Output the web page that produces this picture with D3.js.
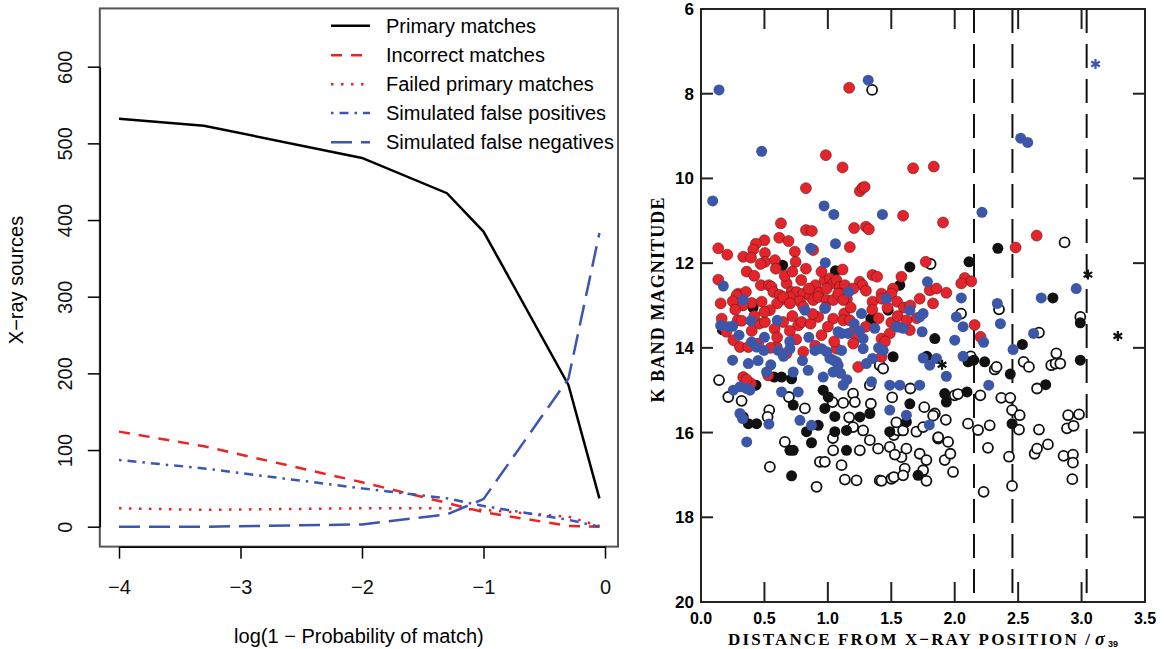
<!DOCTYPE html>
<html>
<head>
<meta charset="utf-8">
<script src="https://cdn.jsdelivr.net/npm/d3@7"></script>
<style>
  body { margin: 0; background: #fff; }
  svg { display: block; }
</style>
</head>
<body>
<div id="chart"></div>
<script>
// ---- left panel data: log(1 - P) vs number of X-ray sources
var logP = [-4, -3.301, -2, -1.301, -1, -0.301, -0.046];
var primaryMatches   = [532, 523, 481, 435, 385, 185, 37];
var incorrectMatches = [124, 105, 58, 31, 19, 1, 0];
var failedPrimary    = [24, 22, 24, 24, 22, 13, 1];
var simFalsePos      = [87, 76, 50, 37, 27, 9, 0];
var simFalseNeg      = [0, 0, 3, 16, 36, 193, 383];
var xTicksL = [-4, -3, -2, -1, 0];
var yTicksL = [0, 100, 200, 300, 400, 500, 600];

// ---- right panel data: [distance / sigma, K magnitude]
var redPts = [[1.168,7.86],[0.984,9.45],[1.116,9.74],[1.672,9.76],[1.835,9.72],[0.827,10.23],[1.252,10.3],[1.273,10.22],[1.29,10.2],[1.593,10.88],[1.908,11.04],[0.63,11.06],[0.827,11.22],[0.874,11.24],[1.207,11.17],[1.3,11.14],[1.323,11.2],[0.617,11.4],[0.69,11.48],[0.5,11.46],[0.433,11.54],[0.412,11.68],[0.136,11.65],[0.207,11.8],[0.333,11.85],[0.394,11.87],[0.504,11.76],[0.504,11.97],[0.583,11.93],[0.74,11.73],[0.746,11.97],[1.173,11.62],[0.884,11.69],[1.772,11.97],
  [2.646,11.35],[2.48,11.63],[2.079,12.35],[2.131,12.43],[2.052,12.48],[2.157,13.46],[2.203,13.74],
  [0.36,12.2],[0.59,12.13],[0.827,12.13],[1.116,12.15],
  [0.136,12.39],[0.294,12.72],[0.354,12.68],[0.472,12.52],[0.535,12.52],[0.556,12.56],[0.57,12.68],[0.675,12.48],[0.714,12.68],[0.753,12.68],[0.806,12.72],[0.903,12.52],[0.976,12.4],[1.016,12.36],[1.042,12.48],[1.068,12.4],[1.094,12.56],[1.134,12.52],[1.252,12.44],[1.273,12.52],[1.352,12.28],[1.388,12.32],[1.423,12.72],[1.514,12.6],[1.58,12.32],[1.803,12.64],[1.856,12.6],[1.934,12.7],
  [0.62,12.75],[0.65,12.85],[0.7,12.8],[0.78,12.9],[0.86,12.78],[0.93,12.7],[0.99,12.6],[1.1,12.72],[1.15,12.85],[0.85,12.6],[0.6,12.95],
  [0.155,12.95],[0.281,12.76],[0.399,12.94],[0.478,12.91],[0.543,13.11],[0.648,12.8],[0.701,12.95],[0.806,13.03],[0.885,12.87],[0.924,12.8],[0.99,12.87],[1.042,12.87],[1.081,12.72],[1.121,12.87],[1.129,13.19],[1.352,12.91],[1.423,12.84],[1.501,12.72],[1.546,12.91],[1.724,12.84],[1.829,12.95],
  [0.25,12.9],[0.33,13.0],[1.6,13.05],[1.65,13.0],[1.47,13.05],
  [0.163,13.31],[0.289,13.35],[0.32,13.36],[0.459,13.43],[0.504,13.39],[0.648,13.39],[0.766,13.47],[0.793,13.39],[0.864,13.43],[0.924,13.27],[1.042,13.31],[1.121,13.35],[1.173,13.35],[1.199,13.62],[1.226,13.74],[1.423,13.78],[1.488,13.66],[1.646,13.58],
  [0.58,13.55],[0.7,13.6],[1.0,13.5],[1.5,13.4],[1.55,13.5],[1.7,13.3],[0.4,13.6],
  [0.255,13.82],[0.307,13.98],[0.373,13.98],[0.596,13.98],[0.675,14.13],[0.806,14.09],[1.068,14.02],[1.239,14.45],[1.423,14.21],
  [0.45,13.9],[0.55,14.0],[0.9,13.95],[1.45,13.85],[1.2,13.9],
  [0.333,14.69],[0.394,14.84],[0.53,14.65],[0.36,14.75],
  [0.42,12.3],[0.47,12.02],[0.66,12.3],[0.72,12.2],[0.79,12.4],[0.95,12.2],[1.2,12.6],[1.18,13.05],[1.3,12.65],[1.35,13.1],[1.4,13.3],[0.5,13.15],[0.42,13.25],[0.27,13.1],[0.2,13.62],[0.6,13.75],[0.75,13.8],[0.95,13.7],[1.05,13.85],[1.3,13.5],[1.55,13.25],[1.62,13.35],[0.88,13.2],[0.72,13.25],[0.98,13.05]];

var bluePts = [[0.142,7.91],[1.318,7.68],[0.478,9.36],[0.092,10.53],[0.97,10.65],[1.047,10.85],[1.43,10.85],[2.215,10.8],[2.52,9.05],[2.575,9.15],[1.06,11.54],[0.864,11.65],[0.98,11.99],
  [2.958,12.6],[2.052,12.82],[2.682,12.82],[2.336,12.95],[2.066,13.5],[2.36,13.43],[2.228,13.87],[2.622,13.66],[2.46,14.04],[2.066,14.2],[2.268,14.88],
  [0.176,12.54],[1.165,12.68],[1.785,12.44],[0.333,12.87],[0.976,13.07],[0.819,13.11],[1.265,13.19],[1.462,12.84],[1.646,13.11],[1.751,13.19],[2.013,13.27],[0.155,13.47],[0.215,13.5],[0.249,13.49],[0.394,13.36],[0.601,13.35],[1.207,13.43],[1.108,13.66],[1.081,13.62],[1.16,13.66],[1.278,13.78],[1.37,13.54],[1.541,13.5],[1.593,13.54],[1.724,13.27],[1.743,13.62],[2.0,13.82],[0.399,13.86],[0.438,13.98],[0.496,14.06],[0.609,14.06],[0.701,14.02],[0.898,14.06],[0.95,14.02],[0.99,14.09],[1.016,14.25],[1.042,14.29],[1.068,14.33],[1.081,14.41],[1.108,14.06],[1.278,14.02],[1.352,14.25],[1.436,14.06],[1.304,14.37],[1.751,14.24],[1.803,14.41],[1.856,14.25],[0.249,14.29],[0.373,14.37],[0.517,14.57],[0.307,14.92],[0.386,15.0],[0.727,14.57],[0.845,14.53],[0.963,14.69],[1.042,14.57],[1.121,14.88],[1.344,14.8],[1.488,14.88],[1.567,14.88],[1.724,14.88],[1.934,14.67],[0.255,15.0],[0.36,14.96],[0.635,15.04],[0.766,15.04],[1.488,15.47],[1.619,15.59],[0.307,15.55],[0.328,15.67],[0.535,15.8],[0.78,15.71],[0.871,15.83],[1.8,15.82],[0.36,16.22],
  [0.45,14.3],[0.55,14.4],[0.65,14.2],[0.8,14.3],[1.1,14.6],[1.15,14.75],
  [0.3,13.7],[0.5,13.75],[0.7,13.85],[0.85,13.75],[1.25,13.6],[1.4,14.0]];

var blackPts = [[0.643,12.05],[1.06,12.18],[1.646,12.09],[2.113,11.97],[2.34,11.65],[2.774,12.82],[2.99,13.41],[2.533,13.92],[2.105,14.33],[2.15,14.29],[2.236,14.33],[2.438,14.62],[2.99,14.29],[2.717,14.87],[2.097,15.04],[2.452,15.79],
  [1.567,12.52],[1.475,13.11],[1.339,13.31],[1.37,13.31],[0.168,13.57],[1.843,13.78],[1.514,14.21],[0.433,14.88],[0.577,14.69],[0.635,14.69],[0.714,14.73],[0.727,15.35],[0.963,15.0],[1.003,15.16],[0.976,15.43],[1.252,15.63],[1.331,15.55],[1.646,15.32],[1.921,15.08],[1.934,15.28],[0.333,15.63],[0.373,15.79],[0.438,15.79],[0.832,15.98],[0.924,15.83],[0.871,16.24],[1.055,15.98],[1.147,15.95],[1.488,15.98],[1.619,15.75],[0.701,16.42],[0.727,16.42],[1.147,16.42],[0.714,17.02],[1.711,17.01],[1.78,14.2],[0.41,13.05],[1.055,15.62]];

var openPts = [[1.349,7.91],[1.81,12.02],[2.866,11.51],[2.349,13.09],[2.05,13.19],[2.99,13.27],[2.664,13.64],[2.126,14.2],[2.315,14.51],[2.33,14.45],[2.543,14.33],[2.585,14.45],[2.801,14.13],[2.761,14.41],[2.795,14.37],[2.832,14.37],[2.649,14.96],[2.202,15.12],[2.367,15.18],[2.438,15.18],[2.452,15.47],[2.512,15.59],[2.105,15.79],[2.184,15.94],[2.276,15.83],[2.507,15.93],[2.664,15.93],[2.894,15.59],[2.98,15.57],[2.885,15.9],[2.937,15.84],[2.262,16.36],[2.63,16.5],[2.649,16.38],[2.735,16.28],[2.858,16.55],[2.932,16.52],[2.932,16.71],[2.428,16.57],[2.927,17.1],[2.228,17.4],[2.452,17.26],
  [1.409,14.41],[1.436,14.49],[0.142,14.76],[1.331,14.88],[0.215,15.16],[0.32,15.25],[0.693,15.16],[0.819,15.43],[1.037,15.28],[1.121,15.3],[1.199,15.08],[1.213,15.28],[1.339,15.32],[1.843,15.55],[2.0,15.12],[2.026,15.09],[0.538,15.47],[0.525,15.63],[1.199,15.87],[1.278,15.95],[1.331,16.18],[1.52,16.06],[1.554,15.95],[1.593,15.95],[1.698,15.98],[1.751,15.87],[1.869,16.14],[1.948,16.22],[0.661,16.22],[1.042,16.42],[1.252,16.42],[1.396,16.38],[1.488,16.34],[1.58,16.58],[1.619,16.38],[1.724,16.5],[1.777,16.65],[1.921,16.65],[1.966,16.5],[0.543,16.81],[0.937,16.69],[0.976,16.69],[1.108,16.77],[1.606,16.85],[1.751,16.89],[1.987,16.93],[0.911,17.28],[1.134,17.11],[1.226,17.13],[1.409,17.13],[1.423,17.14],[1.501,17.09],[1.52,17.05],[1.777,17.14],[1.593,17.01],
  [1.507,15.17],[1.54,15.76],[1.76,15.4],[1.83,15.6],[1.93,15.7],[1.65,14.96],[1.87,16.11],[1.168,15.64],[1.528,16.52],[1.04,16.13]];

var starBlack = [[3.05,12.27],[3.286,13.72],[1.9,14.4]];
var starBlue = [[3.11,7.3]];
var cutLines = [2.152, 2.455, 3.04];
var xTicksR = [0, 0.5, 1.0, 1.5, 2.0, 2.5, 3.0, 3.5];
var yTicksR = [6, 8, 10, 12, 14, 16, 18, 20];

var W = 1164, H = 649;
var svg = d3.select("#chart").append("svg")
    .attr("width", W)
    .attr("height", H);
svg.append("rect").attr("width", W).attr("height", H).attr("fill", "#fff");

// ================= left panel =================
var sans = "'Liberation Sans', Arial, Helvetica, sans-serif";
var xL = d3.scaleLinear().domain([-4, 0]).range([119, 605]);
var yL = d3.scaleLinear().domain([0, 600]).range([526.7, 66.7]);
var boxL = {x0: xL(-4.158), x1: xL(0.107), y0: yL(676), y1: yL(-26)};

var gL = svg.append("g").style("font-family", sans);

gL.append("rect")
    .attr("x", boxL.x0).attr("y", boxL.y0)
    .attr("width", boxL.x1 - boxL.x0).attr("height", boxL.y1 - boxL.y0)
    .attr("fill", "none").attr("stroke", "#555").attr("stroke-width", 2);

var axB = gL.append("g")
    .attr("transform", "translate(0," + boxL.y1 + ")")
    .call(d3.axisBottom(xL).tickValues(xTicksL).tickFormat(d3.format("d")).tickSize(12).tickSizeOuter(0));
axB.select(".domain").attr("stroke-width", 1.5);
axB.selectAll(".tick line").attr("stroke-width", 1.5);
axB.selectAll("text").attr("y", 47).attr("dy", 0).style("font-size", "20px").attr("fill", "#111");

var axLft = gL.append("g")
    .attr("transform", "translate(" + boxL.x0 + ",0)")
    .call(d3.axisLeft(yL).tickValues(yTicksL).tickSize(12).tickSizeOuter(0));
axLft.select(".domain").attr("stroke-width", 1.5);
axLft.selectAll(".tick line").attr("stroke-width", 1.5);
axLft.selectAll("text")
    .attr("transform", "rotate(-90)")
    .attr("x", 0).attr("y", -28).attr("dy", 0)
    .attr("text-anchor", "middle")
    .style("font-size", "20px").attr("fill", "#111");

gL.append("text")
    .attr("transform", "translate(23,280) rotate(-90)")
    .attr("text-anchor", "middle")
    .style("font-size", "20px")
    .text("X\u2212ray sources");

gL.append("text")
    .attr("x", (boxL.x0 + boxL.x1) / 2).attr("y", 643)
    .attr("text-anchor", "middle")
    .style("font-size", "20px")
    .text("log(1 \u2212 Probability of match)");

var series = [
  {name: "Primary matches", vals: primaryMatches, color: "#000", dash: null},
  {name: "Incorrect matches", vals: incorrectMatches, color: "#ee2222", dash: "11,9"},
  {name: "Failed primary matches", vals: failedPrimary, color: "#ee2222", dash: "2.5,7.5"},
  {name: "Simulated false positives", vals: simFalsePos, color: "#3b55b0", dash: "2.5,6,9,6"},
  {name: "Simulated false negatives", vals: simFalseNeg, color: "#3b55b0", dash: "21,9"}
];

var line = d3.line()
    .x(function(d) { return xL(d[0]); })
    .y(function(d) { return yL(d[1]); });

series.forEach(function(s) {
  gL.append("path")
      .datum(logP.map(function(x, i) { return [x, s.vals[i]]; }))
      .attr("d", line)
      .attr("fill", "none")
      .attr("stroke", s.color)
      .attr("stroke-width", 2.5)
      .attr("stroke-dasharray", s.dash);
});

// legend (no box)
var legY = [25.7, 55.2, 84.2, 112.9, 142.3];
series.forEach(function(s, i) {
  gL.append("line")
      .attr("x1", 331).attr("x2", 370)
      .attr("y1", legY[i]).attr("y2", legY[i])
      .attr("stroke", s.color).attr("stroke-width", 2.5)
      .attr("stroke-dasharray", s.dash);
  gL.append("text")
      .attr("x", 386).attr("y", legY[i]).attr("dy", "0.35em")
      .style("font-size", "20px")
      .text(s.name);
});

// ================= right panel =================
var xR = d3.scaleLinear().domain([0, 3.5]).range([701, 1145]);
var yR = d3.scaleLinear().domain([6, 20]).range([9, 602]);
var gR = svg.append("g");

// dashed cut lines
gR.selectAll(".cut")
    .data(cutLines)
  .enter().append("line")
    .attr("class", "cut")
    .attr("x1", function(d) { return xR(d); }).attr("x2", function(d) { return xR(d); })
    .attr("y1", yR(6)).attr("y2", yR(20))
    .attr("stroke", "#111").attr("stroke-width", 2)
    .attr("stroke-dasharray", "24,11");

// markers
gR.selectAll(".open").data(openPts)
  .enter().append("circle")
    .attr("cx", function(d) { return xR(d[0]); })
    .attr("cy", function(d) { return yR(d[1]); })
    .attr("r", 5)
    .attr("fill", "#fff").attr("stroke", "#111").attr("stroke-width", 1.8);

gR.selectAll(".blk").data(blackPts)
  .enter().append("circle")
    .attr("cx", function(d) { return xR(d[0]); })
    .attr("cy", function(d) { return yR(d[1]); })
    .attr("r", 5.5)
    .attr("fill", "#111");

gR.selectAll(".red").data(redPts)
  .enter().append("circle")
    .attr("cx", function(d) { return xR(d[0]); })
    .attr("cy", function(d) { return yR(d[1]); })
    .attr("r", 5.5)
    .attr("fill", "#e4242a").attr("stroke", "#5a1a1a")
    .attr("stroke-width", 0.7).attr("stroke-opacity", 0.8);

gR.selectAll(".blue").data(bluePts)
  .enter().append("circle")
    .attr("cx", function(d) { return xR(d[0]); })
    .attr("cy", function(d) { return yR(d[1]); })
    .attr("r", 5.5)
    .attr("fill", "#3d57a8");

var star = d3.symbol().type(d3.symbolAsterisk).size(70);
gR.selectAll(".sb").data(starBlack)
  .enter().append("path")
    .attr("d", star)
    .attr("transform", function(d) { return "translate(" + xR(d[0]) + "," + yR(d[1]) + ")"; })
    .attr("fill", "none").attr("stroke", "#111").attr("stroke-width", 2.2);
gR.selectAll(".sbl").data(starBlue)
  .enter().append("path")
    .attr("d", star)
    .attr("transform", function(d) { return "translate(" + xR(d[0]) + "," + yR(d[1]) + ")"; })
    .attr("fill", "none").attr("stroke", "#3d57a8").attr("stroke-width", 2.2);

// frame and inward ticks
gR.append("rect")
    .attr("x", xR(0)).attr("y", yR(6))
    .attr("width", xR(3.5) - xR(0)).attr("height", yR(20) - yR(6))
    .attr("fill", "none").attr("stroke", "#222").attr("stroke-width", 2);

var innerX = xTicksR.slice(1, -1), innerY = yTicksR.slice(1, -1);
gR.selectAll(".tt").data(innerX).enter().append("line")
    .attr("x1", function(d) { return xR(d); }).attr("x2", function(d) { return xR(d); })
    .attr("y1", yR(6)).attr("y2", yR(6) + 20)
    .attr("stroke", "#222").attr("stroke-width", 2);
gR.selectAll(".tb").data(innerX).enter().append("line")
    .attr("x1", function(d) { return xR(d); }).attr("x2", function(d) { return xR(d); })
    .attr("y1", yR(20)).attr("y2", yR(20) - 20)
    .attr("stroke", "#222").attr("stroke-width", 2);
gR.selectAll(".tl").data(innerY).enter().append("line")
    .attr("x1", xR(0)).attr("x2", xR(0) + 12)
    .attr("y1", function(d) { return yR(d); }).attr("y2", function(d) { return yR(d); })
    .attr("stroke", "#222").attr("stroke-width", 2);
gR.selectAll(".tr").data(innerY).enter().append("line")
    .attr("x1", xR(3.5)).attr("x2", xR(3.5) - 12)
    .attr("y1", function(d) { return yR(d); }).attr("y2", function(d) { return yR(d); })
    .attr("stroke", "#222").attr("stroke-width", 2);

// tick labels
var boldSans = "'Liberation Sans', Arial, sans-serif";
gR.selectAll(".xl").data(xTicksR).enter().append("text")
    .attr("x", function(d) { return xR(d); }).attr("y", 624)
    .attr("text-anchor", "middle")
    .style("font-family", boldSans).style("font-weight", "bold").style("font-size", "16px")
    .text(function(d) { return d3.format(".1f")(d); });
gR.selectAll(".yl").data(yTicksR).enter().append("text")
    .attr("x", 694).attr("y", function(d) { return yR(d) + 6; })
    .attr("text-anchor", "end")
    .style("font-family", boldSans).style("font-weight", "bold").style("font-size", "17px")
    .text(function(d) { return d; });

// axis titles
var serif = "'Liberation Serif', 'Times New Roman', serif";
gR.append("text")
    .attr("x", 728).attr("y", 645)
    .attr("textLength", 362).attr("lengthAdjust", "spacing")
    .style("font-family", serif).style("font-weight", "bold").style("font-size", "17px")
    .text("DISTANCE FROM X\u2212RAY POSITION /");
gR.append("text")
    .attr("x", 1095).attr("y", 645)
    .style("font-family", serif).style("font-weight", "bold").style("font-style", "italic").style("font-size", "18px")
    .text("\u03c3");
gR.append("text")
    .attr("x", 1108).attr("y", 646.5)
    .style("font-family", boldSans).style("font-weight", "bold").style("font-size", "9px")
    .text("39");
gR.append("text")
    .attr("transform", "translate(664,300) rotate(-90)")
    .attr("text-anchor", "middle")
    .attr("textLength", 205).attr("lengthAdjust", "spacing")
    .style("font-family", serif).style("font-weight", "bold").style("font-size", "18px")
    .text("K BAND MAGNITUDE");
</script>
</body>
</html>
